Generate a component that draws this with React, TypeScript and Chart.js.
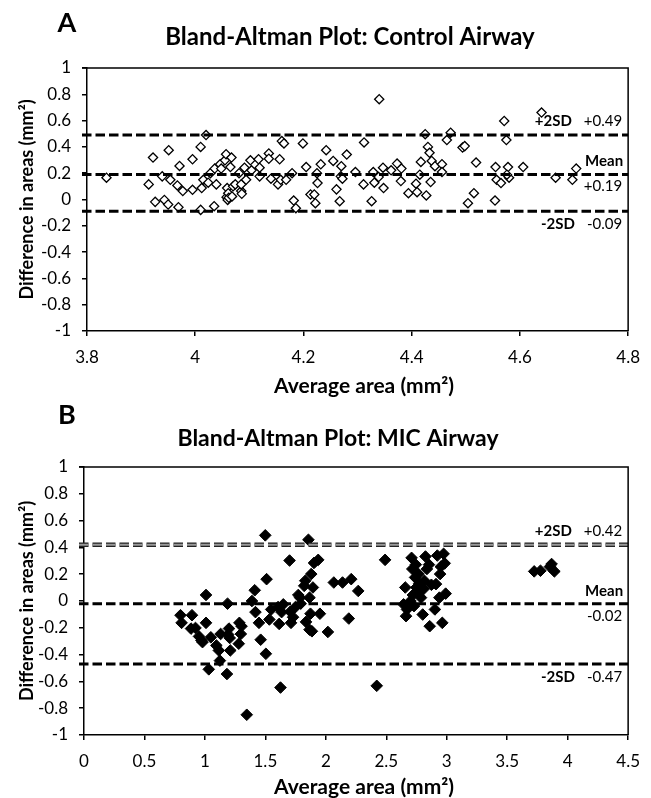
import React, { useEffect, useRef } from 'react';
import { Chart, registerables } from 'chart.js';
Chart.register(...registerables);

// ---- Control airway (panel A) ----
const controlX = [
  3.836, 3.914, 3.922, 3.926, 3.939, 3.943, 3.950, 3.951, 3.954, 3.967, 3.969, 3.971, 3.977, 3.995, 3.995,
  4.010, 4.010, 4.012, 4.015, 4.020, 4.024, 4.028, 4.035, 4.036, 4.039, 4.046, 4.048, 4.055, 4.057, 4.059,
  4.058, 4.060, 4.061, 4.062, 4.065, 4.067, 4.068, 4.070, 4.074, 4.081, 4.085, 4.086, 4.085, 4.091, 4.094,
  4.102, 4.104, 4.117, 4.119, 4.119, 4.136, 4.136, 4.140, 4.153, 4.156, 4.158, 4.160, 4.164, 4.168, 4.179,
  4.182, 4.186, 4.199, 4.205, 4.213, 4.220, 4.222, 4.225, 4.226, 4.232, 4.242, 4.255, 4.261, 4.267, 4.269,
  4.270, 4.272, 4.280, 4.296, 4.311, 4.312, 4.326, 4.329, 4.331, 4.339, 4.340, 4.347, 4.348, 4.362, 4.373,
  4.380, 4.381, 4.394, 4.408, 4.410, 4.415, 4.417, 4.425, 4.427, 4.430, 4.433, 4.435, 4.437, 4.443, 4.456,
  4.456, 4.465, 4.472, 4.494, 4.498, 4.504, 4.515, 4.519, 4.554, 4.555, 4.557, 4.565, 4.571, 4.575, 4.578,
  4.580, 4.576, 4.606, 4.640, 4.666, 4.697, 4.704,
];
const controlY = [
  0.166, 0.115, 0.319, -0.018, 0.176, -0.003, -0.038, 0.375, 0.150, 0.107, -0.059, 0.255, 0.064, 0.306, 0.074,
  0.400, -0.079, 0.087, 0.150, 0.490, 0.128, 0.200, -0.051, 0.235, 0.115, 0.268, 0.235, 0.298, 0.344, 0.087,
  0.018, -0.003, 0.048, 0.013, 0.247, 0.319, 0.023, 0.100, 0.115, 0.200, 0.064, 0.043, 0.115, 0.242, 0.150,
  0.298, 0.222, 0.306, 0.176, 0.242, 0.350, 0.310, 0.158, 0.115, 0.306, 0.150, 0.444, 0.426, 0.150, 0.200,
  -0.008, -0.066, 0.426, 0.247, 0.038, 0.038, -0.028, 0.200, 0.125, 0.268, 0.375, 0.293, 0.077, -0.013, 0.176,
  0.253, 0.158, 0.342, 0.209, 0.115, 0.434, -0.013, 0.209, 0.128, 0.171, 0.763, 0.242, 0.087, 0.222, 0.273,
  0.140, 0.235, 0.048, 0.120, 0.056, 0.189, 0.286, 0.497, 0.031, 0.400, 0.355, 0.133, 0.293, 0.253, 0.268,
  0.209, 0.452, 0.508, 0.395, 0.406, -0.028, 0.048, 0.281, -0.008, 0.247, 0.150, 0.125, 0.597, 0.452, 0.247,
  0.166, 0.189, 0.247, 0.661, 0.166, 0.150, 0.235,
];
const controlLimits = [0.49, 0.19, -0.09];
const controlLimitText = ['+0.49', '+0.19', '-0.09'];

// ---- MIC airway (panel B) ----
const micX = [
  0.798, 0.807, 0.893, 0.885, 0.922, 0.951, 0.971, 0.980, 1.009, 1.009, 1.032, 1.049, 1.095, 1.115, 1.124,
  1.130, 1.182, 1.187, 1.193, 1.199, 1.205, 1.210, 1.280, 1.285, 1.297, 1.303, 1.346, 1.389, 1.412, 1.418,
  1.447, 1.461, 1.499, 1.504, 1.510, 1.533, 1.548, 1.605, 1.614, 1.625, 1.634, 1.648, 1.700, 1.706, 1.712,
  1.729, 1.749, 1.772, 1.787, 1.792, 1.821, 1.830, 1.836, 1.856, 1.865, 1.865, 1.873, 1.879, 1.885, 1.893,
  1.902, 1.937, 1.951, 2.017, 2.066, 2.138, 2.190, 2.210, 2.268, 2.421, 2.490, 2.643, 2.657, 2.663, 2.671,
  2.700, 2.709, 2.715, 2.720, 2.729, 2.738, 2.744, 2.749, 2.758, 2.767, 2.772, 2.787, 2.801, 2.807, 2.815,
  2.824, 2.836, 2.853, 2.859, 2.873, 2.902, 2.911, 2.922, 2.939, 2.945, 2.951, 2.963, 2.974, 2.983, 2.991,
  3.723, 3.775, 3.853, 3.867, 3.890,
];
const micY = [
  -0.106, -0.163, -0.106, -0.206, -0.201, -0.264, -0.294, -0.307, 0.045, -0.163, -0.510, -0.271, -0.332, -0.369, -0.445,
  -0.246, -0.545, -0.020, -0.251, -0.206, -0.276, -0.369, -0.319, -0.163, -0.246, -0.188, -0.849, 0.000, 0.080, -0.083,
  -0.163, -0.289, 0.490, -0.394, 0.163, -0.138, -0.063, -0.045, -0.171, -0.646, -0.083, -0.025, 0.302, -0.080, -0.163,
  -0.121, -0.045, 0.045, 0.025, -0.020, 0.113, 0.151, -0.156, 0.457, 0.025, -0.214, -0.095, 0.201, -0.226, 0.101,
  0.284, 0.307, -0.095, -0.231, 0.138, 0.138, -0.131, 0.163, 0.075, -0.633, 0.307, -0.025, 0.101, -0.113, -0.063,
  0.000, 0.322, 0.239, 0.045, -0.038, 0.176, 0.271, 0.101, 0.063, 0.201, 0.131, 0.025, -0.101, 0.088, 0.151,
  0.332, 0.239, 0.271, -0.188, 0.121, -0.063, 0.126, 0.339, 0.025, 0.201, 0.256, -0.163, 0.352, 0.281, 0.055,
  0.221, 0.226, 0.256, 0.276, 0.221,
];
const micLimits = [0.42, -0.02, -0.47];
const micLimitText = ['+0.42', '-0.02', '-0.47'];

const FONT = 'Lato, "Open Sans", sans-serif';

type PanelCfg = {
  letter: string;
  title: string;
  xs: number[];
  ys: number[];
  xMin: number;
  xMax: number;
  xStep: number;
  limits: number[];
  limitText: string[];
  filled: boolean;
  padTop: number;
  padRight: number;
  padBottom: number;
  yAxisW: number;
  grayUpper: boolean;
  letterY: number;
  titleX: number;
  titleY: number;
  titleSize: number;
  xTitleOff: number;
};

function makeAnnot(cfg: PanelCfg) {
  return {
    id: 'annot',
    afterDatasetsDraw(chart: any) {
      const { ctx, chartArea: ca, scales } = chart;
      const y = scales.y;
      ctx.save();
      cfg.limits.forEach((v, i) => {
        const py = y.getPixelForValue(v);
        ctx.beginPath();
        ctx.setLineDash([9.5, 4]);
        ctx.moveTo(ca.left - 5, py);
        ctx.lineTo(ca.right, py);
        if (i === 0 && cfg.grayUpper) {
          ctx.strokeStyle = '#222';
          ctx.lineWidth = 4.5;
          ctx.stroke();
          ctx.strokeStyle = '#9a9a9a';
          ctx.lineWidth = 2;
          ctx.stroke();
        } else {
          ctx.strokeStyle = '#000';
          ctx.lineWidth = 3;
          ctx.stroke();
        }
      });
      ctx.restore();
    },
    afterDraw(chart: any) {
      const { ctx, chartArea: ca, scales } = chart;
      const y = scales.y;
      ctx.save();
      // frame top and right
      ctx.strokeStyle = '#000';
      ctx.lineWidth = 1.5;
      ctx.setLineDash([]);
      ctx.beginPath();
      ctx.moveTo(ca.left - 5, ca.top);
      ctx.lineTo(ca.right, ca.top);
      ctx.lineTo(ca.right, ca.bottom);
      ctx.stroke();

      ctx.fillStyle = '#000';
      ctx.textAlign = 'center';
      ctx.textBaseline = 'middle';
      // panel letter
      ctx.font = `bold 27px ${FONT}`;
      ctx.fillText(cfg.letter, 67, cfg.letterY);
      // title
      ctx.font = `bold ${cfg.titleSize}px ${FONT}`;
      ctx.fillText(cfg.title, cfg.titleX, cfg.titleY);
      // x axis title
      ctx.font = `bold 21px ${FONT}`;
      ctx.fillText('Average area (mm²)', 364, ca.bottom + cfg.xTitleOff);
      // y axis title
      ctx.save();
      ctx.translate(27, (ca.top + ca.bottom) / 2);
      ctx.rotate(-Math.PI / 2);
      ctx.font = `bold 18px ${FONT}`;
      ctx.fillText('Difference in areas (mm²)', 0, 0);
      ctx.restore();

      // limit labels
      const rx = ca.right - 6;
      ctx.textAlign = 'right';
      ctx.font = `15px ${FONT}`;
      const valW = ctx.measureText(cfg.limitText[0]).width;
      // upper
      let py = y.getPixelForValue(cfg.limits[0]);
      ctx.fillText(cfg.limitText[0], rx, py - 14);
      ctx.font = `bold 15px ${FONT}`;
      ctx.fillText('+2SD', rx - valW - 12, py - 14);
      // mean
      py = y.getPixelForValue(cfg.limits[1]);
      ctx.font = `bold 15px ${FONT}`;
      ctx.fillText('Mean', rx + 1, py - 13);
      ctx.font = `15px ${FONT}`;
      ctx.fillText(cfg.limitText[1], rx, py + 12);
      // lower
      py = y.getPixelForValue(cfg.limits[2]);
      ctx.font = `15px ${FONT}`;
      const valW2 = ctx.measureText(cfg.limitText[2]).width;
      ctx.fillText(cfg.limitText[2], rx, py + 13);
      ctx.font = `bold 15px ${FONT}`;
      ctx.fillText('-2SD', rx - valW2 - 12, py + 13);
      ctx.restore();
    },
  };
}

function fmt(v: number) {
  return String(Math.round(v * 10) / 10);
}

function Panel({ cfg, height }: { cfg: PanelCfg; height: number }) {
  const ref = useRef<HTMLCanvasElement>(null);
  useEffect(() => {
    if (!ref.current) return;
    const points = cfg.xs.map((x, i) => ({ x, y: cfg.ys[i] }));
    const axisCommon = {
      grid: { display: true, drawOnChartArea: false, drawTicks: true, tickLength: 5, color: '#000', lineWidth: 1.5 },
      border: { display: true, color: '#000', width: 1.5 },
    };
    const chart = new Chart(ref.current, {
      type: 'scatter',
      data: {
        datasets: [
          {
            data: points,
            pointStyle: 'rectRot',
            pointRadius: cfg.filled ? 5.8 : 4.6,
            pointHoverRadius: cfg.filled ? 5.8 : 4.6,
            backgroundColor: cfg.filled ? '#000' : '#fff',
            borderColor: '#000',
            borderWidth: cfg.filled ? 1 : 1.3,
          },
        ],
      },
      options: {
        responsive: false,
        animation: false,
        layout: { padding: { left: 0, right: cfg.padRight, top: cfg.padTop, bottom: cfg.padBottom } },
        plugins: { legend: { display: false }, tooltip: { enabled: false } },
        scales: {
          x: {
            type: 'linear',
            min: cfg.xMin,
            max: cfg.xMax,
            ...axisCommon,
            ticks: {
              stepSize: cfg.xStep,
              autoSkip: false,
              maxRotation: 0,
              padding: 11,
              color: '#000',
              font: { family: FONT, size: 17 },
              callback: (v: any) => fmt(Number(v)),
            },
            afterFit: (s: any) => {
              s.height = 40;
            },
          },
          y: {
            type: 'linear',
            min: -1,
            max: 1,
            ...axisCommon,
            ticks: {
              stepSize: 0.2,
              autoSkip: false,
              padding: 11,
              color: '#000',
              font: { family: FONT, size: 17 },
              callback: (v: any) => fmt(Number(v)),
            },
            afterFit: (s: any) => {
              s.width = cfg.yAxisW;
            },
          },
        },
      },
      plugins: [makeAnnot(cfg)],
    } as any);
    return () => chart.destroy();
  }, [cfg]);
  return <canvas ref={ref} width={651} height={height} style={{ display: 'block' }} />;
}

const panelA: PanelCfg = {
  letter: 'A',
  title: 'Bland-Altman Plot: Control Airway',
  xs: controlX,
  ys: controlY,
  xMin: 3.8,
  xMax: 4.8,
  xStep: 0.2,
  limits: controlLimits,
  limitText: controlLimitText,
  filled: false,
  padTop: 68,
  padRight: 14,
  padBottom: 400 - 331 - 40,
  yAxisW: 87,
  grayUpper: false,
  letterY: 23,
  titleX: 350,
  titleY: 37,
  titleSize: 24,
  xTitleOff: 55,
};

const panelB: PanelCfg = {
  letter: 'B',
  title: 'Bland-Altman Plot: MIC Airway',
  xs: micX,
  ys: micY,
  xMin: 0,
  xMax: 4.5,
  xStep: 0.5,
  limits: micLimits,
  limitText: micLimitText,
  filled: true,
  padTop: 67,
  padRight: 13,
  padBottom: 398 - 335 - 40,
  yAxisW: 84,
  grayUpper: true,
  letterY: 15,
  titleX: 338,
  titleY: 39,
  titleSize: 23,
  xTitleOff: 52,
};

export default function App() {
  return (
    <div style={{ position: 'fixed', left: 0, top: 0, width: 651, height: 798, background: '#fff', overflow: 'hidden' }}>
      <Panel cfg={panelA} height={400} />
      <Panel cfg={panelB} height={398} />
    </div>
  );
}
